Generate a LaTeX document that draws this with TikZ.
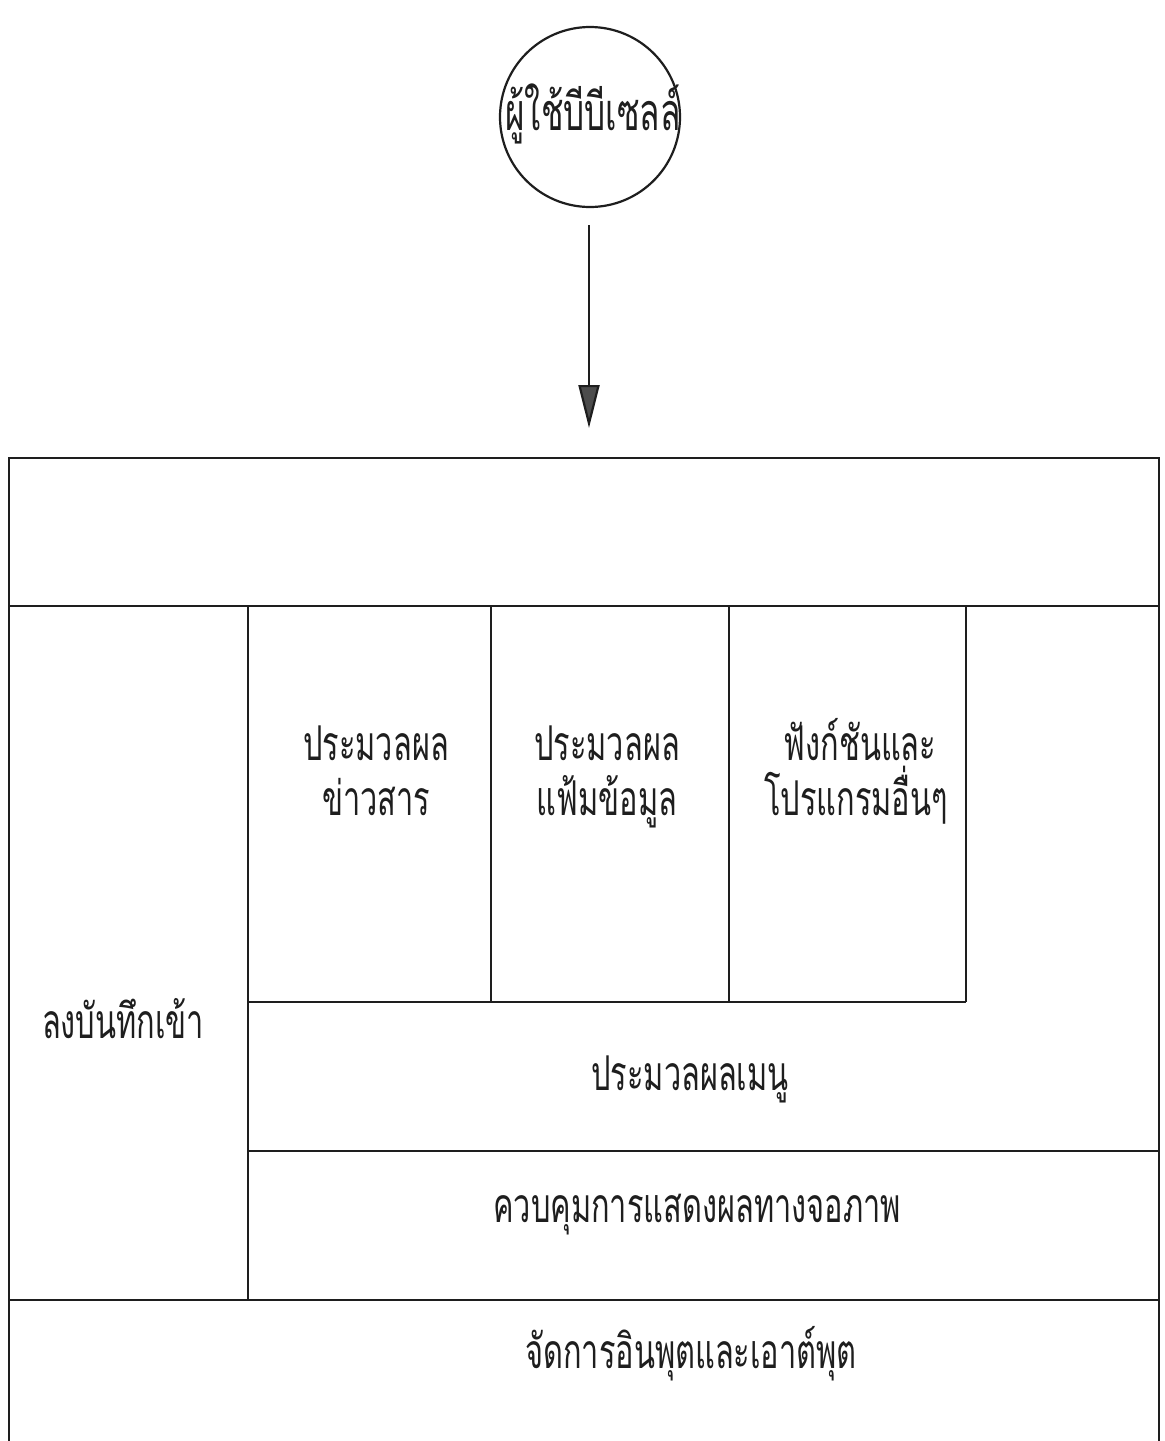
\documentclass[tikz,border=0pt]{standalone}
\usepackage{fontspec}
\usetikzlibrary{arrows.meta}
\newfontfamily\thaifont[Script=Thai,FakeStretch=0.64]{Loma}
\definecolor{ink}{HTML}{1E1E1E}
\tikzset{
  frame/.style={draw=ink, line width=1.3pt},
  lbl/.style={font=\thaifont\fontsize{24}{28}\selectfont, anchor=base, inner sep=0pt, text=ink},
  usercircle/.style={draw=ink, line width=1.1pt, circle, minimum size=90pt, inner sep=0pt},
  flow/.style={draw=ink, line width=1.1pt, -{Triangle[length=21.5pt,width=10.5pt,fill=black!70]}}
}
\begin{document}
\begin{tikzpicture}[x=0.5pt,y=-0.5pt]
\useasboundingbox[fill=white] (0,0) rectangle (1164,1441);
% user circle
\node[usercircle] (circ) at (590,117) {};
\node[lbl, font=\thaifont\fontsize{26}{30}\selectfont] (user) at (593,130) {ผู้ใช้บีบีเซลล์};
\coordinate (atop) at (589,225);
\coordinate (abot) at (589,428);
\draw[flow] (atop) -- (abot);
% outer frame
\draw[frame] (9,1441) -- (9,458) -- (1159,458) -- (1159,1441);
\draw[frame] (9,606) -- (1159,606);
\draw[frame] (248,606) -- (248,1300);
\draw[frame] (9,1300) -- (1159,1300);
\draw[frame] (248,1151) -- (1159,1151);
\draw[frame] (248,1002) -- (966,1002);
\draw[frame] (491,606) -- (491,1002);
\draw[frame] (729,606) -- (729,1002);
\draw[frame] (966,606) -- (966,1002);
% labels
\node[lbl] (b1a) at (376,760) {ประมวลผล};
\node[lbl] (b1b) at (376,815) {ข่าวสาร};
\node[lbl] (b2a) at (607,760) {ประมวลผล};
\node[lbl] (b2b) at (607,815) {แฟ้มข้อมูล};
\node[lbl] (b3a) at (860,760) {ฟังก์ชันและ};
\node[lbl] (b3b) at (856,815) {โปรแกรมอื่นๆ};
\node[lbl] (login) at (123,1038) {ลงบันทึกเข้า};
\node[lbl] (menu) at (690,1090) {ประมวลผลเมนู};
\node[lbl] (disp) at (697,1222) {ควบคุมการแสดงผลทางจอภาพ};
\node[lbl] (io) at (691,1368) {จัดการอินพุตและเอาต์พุต};
\end{tikzpicture}
\end{document}
